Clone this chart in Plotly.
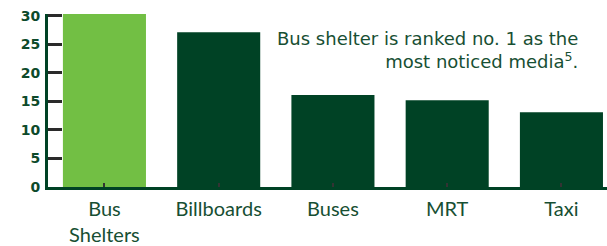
import plotly.graph_objects as go

categories = ["Bus<br>Shelters", "Billboards", "Buses", "MRT", "Taxi"]
values = [30.3, 27.1, 16.1, 15.2, 13.1]
bar_colors = ["#72bf44", "#004225", "#004225", "#004225", "#004225"]
y_ticks = [0, 5, 10, 15, 20, 25, 30]
note_text = "Bus shelter is ranked no. 1 as the<br>most noticed media<sup>5</sup>."

DARK = "#004225"
TEXT = "#174f33"
FONT = "Lato"

W, H = 607, 246
L, T = 48, 14
PLOT_BOTTOM = 187
B = H - PLOT_BOTTOM
plot_w = W - L
plot_h = H - T - B

fig = go.Figure(go.Bar(
    x=list(range(len(categories))),
    y=values,
    marker=dict(color=bar_colors, line=dict(width=0)),
    width=0.727,
    hoverinfo="skip",
))

def py(ypage):
    return (PLOT_BOTTOM - ypage) / plot_h

fig.update_layout(
    width=W, height=H,
    margin=dict(l=L, r=0, t=T, b=B, pad=0),
    paper_bgcolor="white", plot_bgcolor="white",
    showlegend=False,
    font=dict(family=FONT, color=TEXT),
    xaxis=dict(
        range=[-0.494, -0.494 + plot_w / 114.25],
        tickvals=list(range(len(categories))),
        ticktext=categories,
        tickson="boundaries",
        ticks="inside", ticklen=4, tickwidth=2, tickcolor="#333333",
        showline=True, linecolor=DARK, linewidth=3,
        showgrid=False, zeroline=False,
        tickfont=dict(family=FONT, size=20, color=TEXT),
        ticklabelstandoff=2,
    ),
    yaxis=dict(
        range=[0, 30.3],
        tickvals=y_ticks,
        ticks="inside", ticklen=14, tickwidth=3, tickcolor="#2a2a2a",
        showline=True, linecolor=DARK, linewidth=3,
        showgrid=False, zeroline=False,
        tickfont=dict(family="DejaVu Sans", size=14, color="#0d4a2b", weight="bold"),
        ticklabelstandoff=2,
        ticklabeloverflow="allow",
    ),
    annotations=[
        dict(x=(580 - L) / plot_w, y=py(49.5), xref="paper", yref="paper",
             text=note_text, showarrow=False, align="right",
             xanchor="right", yanchor="middle",
             font=dict(family="DejaVu Sans", size=18, color=TEXT)),
    ],
)

fig.write_html("out.html", config={"displayModeBar": False},
               post_script="document.body.style.margin='0';")
